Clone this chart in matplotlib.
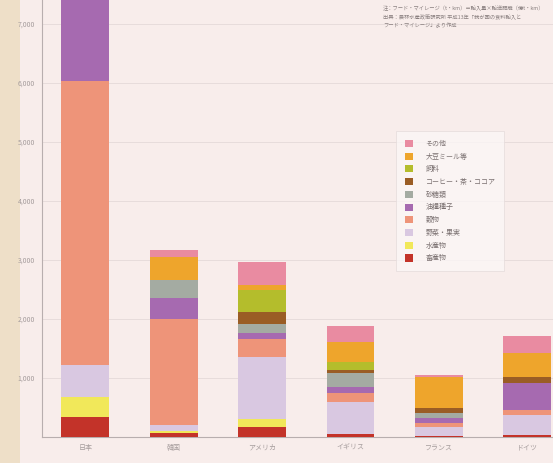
import matplotlib.pyplot as plt
from matplotlib.patches import Patch
import numpy as np

plt.rcParams['font.family'] = ['Noto Sans CJK JP', 'DejaVu Sans']

countries = ['日本', '韓国', 'アメリカ', 'イギリス', 'フランス', 'ドイツ']

# stacked from the bottom up (億t・km)
categories = ['畜産物', '水産物', '野菜・果実', '穀物', '油糧種子',
              '砂糖類', 'コーヒー・茶・ココア', '飼料', '大豆ミール等', 'その他']
colors = ['#c33329', '#f1e85a', '#d9c8e1', '#ee9479', '#a66ab0',
          '#a4aba2', '#9a5d25', '#b4bd2c', '#eea52c', '#e98ba1']

chikusan = [340, 70, 170, 50, 14, 30]
suisan = [340, 40, 135, 5, 0, 10]
yasai = [540, 100, 1050, 540, 150, 330]
kokumotsu = [4800, 1780, 305, 150, 80, 90]
yuryo = [1420, 360, 100, 100, 85, 460]
sato = [150, 310, 150, 240, 70, 0]
coffee = [200, 0, 205, 50, 85, 100]
shiryo = [500, 0, 380, 135, 0, 0]
daizu = [400, 380, 80, 340, 530, 410]
sonota = [312, 132, 383, 270, 30, 288]

values = [chikusan, suisan, yasai, kokumotsu, yuryo, sato, coffee, shiryo, daizu, sonota]

fig = plt.figure(figsize=(5.53, 4.63), dpi=100)
fig.patch.set_facecolor('#f8edeb')
# beige strip on the left edge
fig.add_artist(plt.Rectangle((0, 0), 20 / 553, 1, transform=fig.transFigure,
                             facecolor='#eedfc8', edgecolor='none', zorder=0))

ax = fig.add_axes([42 / 553, 26 / 463, 511 / 553, 437 / 463])
ax.set_facecolor('#f8edeb')

x = np.arange(len(countries))
bottom = np.zeros(len(countries))
for vals, col in zip(values, colors):
    ax.bar(x, vals, width=0.54, bottom=bottom, color=col, edgecolor='none', zorder=3)
    bottom += np.array(vals)

ax.set_xlim(-0.49, 5.29)
ax.set_ylim(0, 7400)
ax.set_yticks([1000, 2000, 3000, 4000, 5000, 6000, 7000])
ax.set_yticklabels(['1,000', '2,000', '3,000', '4,000', '5,000', '6,000', '7,000'])
ax.set_xticks(x)
ax.set_xticklabels(countries)
ax.tick_params(axis='both', length=0, labelsize=5, colors='#a59c9c', pad=5)
ax.grid(axis='y', color='#e4d9d9', linewidth=0.6, zorder=0)
for s in ['top', 'right']:
    ax.spines[s].set_visible(False)
for s in ['left', 'bottom']:
    ax.spines[s].set_color('#b8aeae')
    ax.spines[s].set_linewidth(0.8)

handles = [Patch(facecolor=c, edgecolor='none') for c in colors][::-1]
labels = categories[::-1]
leg = ax.legend(handles, labels, loc='upper left', bbox_to_anchor=(393 / 553, 1 - 128 / 463),
                bbox_transform=fig.transFigure, fontsize=5, frameon=True,
                handlelength=1.2, handleheight=1.2, labelspacing=0.68,
                handletextpad=1.8, borderpad=1.2, fancybox=False)
leg.get_frame().set_facecolor('#fbf6f6')
leg.get_frame().set_edgecolor('#e4dada')
leg.get_frame().set_linewidth(0.6)
for t in leg.get_texts():
    t.set_color('#7a7070')

note = ['注：フード・マイレージ（t・km）＝輸入量×輸送距離（億t・km）',
        '出典：農林水産政策研究所 平成13年「我が国の食料輸入と',
        'フード・マイレージ」より作成']
for i, line in enumerate(note):
    fig.text(383 / 553, 1 - (8 + 9 * i) / 463, line, fontsize=3.8, color='#8a8080',
             ha='left', va='center')

fig.savefig('out.png', dpi=100, facecolor=fig.get_facecolor())
